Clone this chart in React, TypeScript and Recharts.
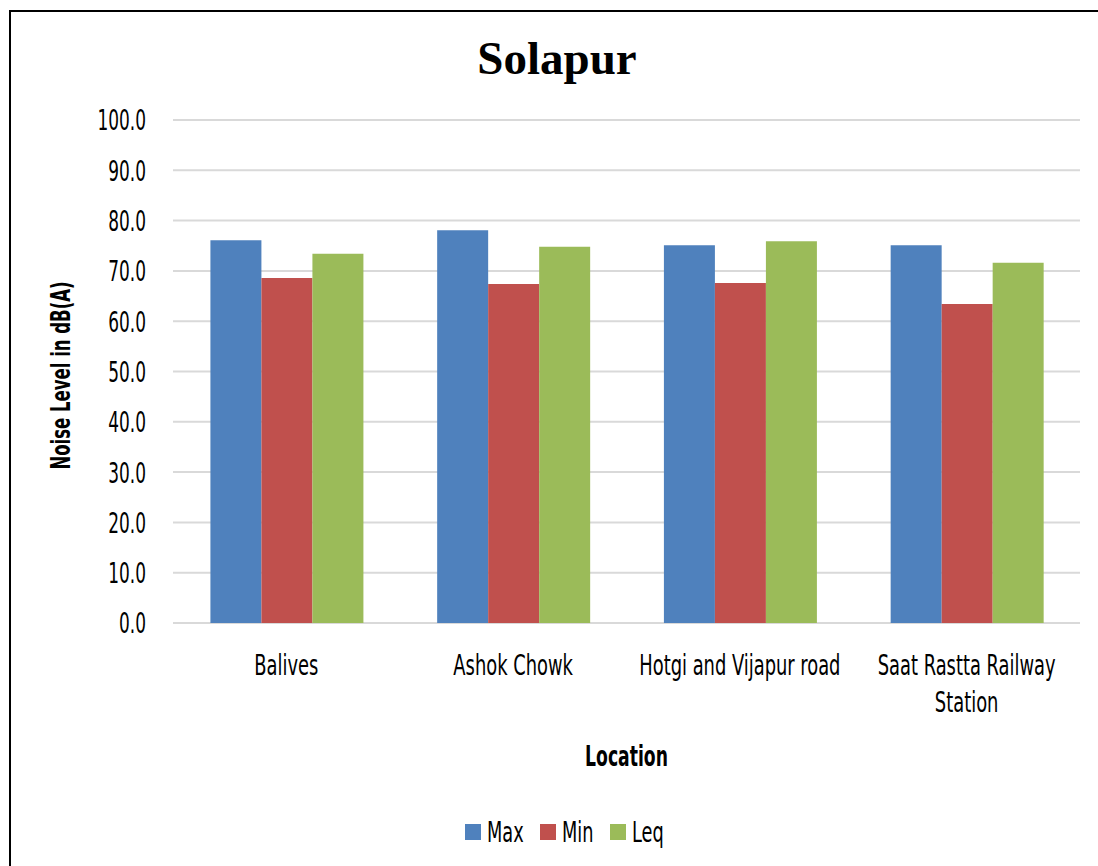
import React from 'react';
import { BarChart, Bar, XAxis, YAxis, CartesianGrid, Legend } from 'recharts';

const categories = ['Balives', 'Ashok Chowk', 'Hotgi and Vijapur road', 'Saat Rastta Railway Station'];
const maxValues = [76.1, 78.1, 75.1, 75.1];
const minValues = [68.6, 67.4, 67.6, 63.4];
const leqValues = [73.4, 74.8, 75.9, 71.6];
const yTicks = [0, 10, 20, 30, 40, 50, 60, 70, 80, 90, 100];

const series = [
  { key: 'Max', color: '#4F81BD', w: 35 },
  { key: 'Min', color: '#C0504D', w: 30 },
  { key: 'Leq', color: '#9BBB59', w: 34 },
];

const data = categories.map((c, i) => ({
  name: c,
  Max: maxValues[i],
  Min: minValues[i],
  Leq: leqValues[i],
}));

const FONT = "'Liberation Sans Narrow', 'DejaVu Sans Condensed', 'Open Sans', sans-serif";

let measureCtx: CanvasRenderingContext2D | null = null;
function measure(text: string, font: string): number {
  if (!measureCtx) {
    const c = document.createElement('canvas');
    measureCtx = c.getContext('2d');
  }
  if (!measureCtx) return text.length * 14;
  measureCtx.font = font;
  return measureCtx.measureText(text).width;
}

function wrap(text: string, maxWidth: number, font: string): string[] {
  const words = text.split(' ');
  const lines: string[] = [];
  let cur = '';
  words.forEach((w) => {
    const cand = cur ? cur + ' ' + w : w;
    if (cur && measure(cand, font) > maxWidth) {
      lines.push(cur);
      cur = w;
    } else {
      cur = cand;
    }
  });
  if (cur) lines.push(cur);
  return lines;
}

const YTick = (props: any) => {
  const { x, y, payload } = props;
  return (
    <g transform={`translate(${x},${y}) scale(0.65,1)`}>
      <text x={0} y={0} dy="0.36em" textAnchor="end" fontFamily={FONT} fontSize={29} fill="#000">
        {Number(payload.value).toFixed(1)}
      </text>
    </g>
  );
};

const XTICK_SX = 0.71;
const XTICK_FS = 28;
const XTick = (props: any) => {
  const { x, y, payload } = props;
  const lines = wrap(String(payload.value), 215 / XTICK_SX, `${XTICK_FS}px ${FONT}`);
  return (
    <g transform={`translate(${x},${y}) scale(${XTICK_SX},1)`}>
      <text x={0} y={0} textAnchor="middle" fontFamily={FONT} fontSize={XTICK_FS} fill="#000">
        {lines.map((l, i) => (
          <tspan key={i} x={0} dy={i === 0 ? 20 : 37}>
            {l}
          </tspan>
        ))}
      </text>
    </g>
  );
};

const YLabel = (props: any) => {
  const { viewBox } = props;
  const cx = 60;
  const cy = viewBox.y + viewBox.height / 2 + 4;
  return (
    <g transform={`translate(${cx},${cy}) rotate(-90) scale(0.68,1)`}>
      <text x={0} y={0} dy="0.36em" textAnchor="middle" fontFamily={FONT} fontWeight="bold" fontSize={27} fill="#000">
        Noise Level in dB(A)
      </text>
    </g>
  );
};

const XLabel = (props: any) => {
  const { viewBox } = props;
  const cx = viewBox.x + viewBox.width / 2;
  const cy = viewBox.y + 143;
  return (
    <g transform={`translate(${cx},${cy}) scale(0.66,1)`}>
      <text x={0} y={0} textAnchor="middle" fontFamily={FONT} fontWeight="bold" fontSize={29} fill="#000">
        Location
      </text>
    </g>
  );
};

const LegendContent = () => (
  <div
    style={{
      height: 40,
      display: 'flex',
      justifyContent: 'center',
      alignItems: 'center',
      paddingLeft: 51,
      boxSizing: 'border-box',
    }}
  >
    {series.map((s, i) => (
      <div key={s.key} style={{ display: 'flex', alignItems: 'center', marginRight: i < series.length - 1 ? 18 : 0 }}>
        <div style={{ width: 16, height: 16, background: s.color, marginRight: 6 }} />
        <div style={{ width: s.w, height: 40, position: 'relative' }}>
          <span
            style={{
              position: 'absolute',
              left: 0,
              top: 2,
              fontFamily: FONT,
              fontSize: 29,
              lineHeight: '36px',
              color: '#000',
              whiteSpace: 'nowrap',
              transform: 'scaleX(0.68)',
              transformOrigin: 'left center',
            }}
          >
            {s.key}
          </span>
        </div>
      </div>
    ))}
  </div>
);

export default function App() {
  return (
    <div style={{ position: 'absolute', left: 0, top: 0, width: 1098, height: 866, background: '#fff', overflow: 'hidden' }}>
      <div
        style={{
          position: 'absolute',
          left: 9,
          top: 10,
          width: 1089,
          height: 856,
          borderLeft: '2px solid #000',
          borderTop: '2px solid #000',
          boxSizing: 'border-box',
        }}
      />
      <div style={{ position: 'absolute', left: 0, top: 0 }}>
        <BarChart
          width={1098}
          height={866}
          data={data}
          margin={{ top: 120, right: 18, left: 0, bottom: 14 }}
          barCategoryGap="16.5%"
          barGap={0}
        >
          <text
            x={557}
            y={74}
            textAnchor="middle"
            fontFamily="'Liberation Serif', 'DejaVu Serif', serif"
            fontWeight="bold"
            fontSize={47}
            fill="#000"
          >
            Solapur
          </text>
          <CartesianGrid vertical={false} stroke="#d9d9d9" strokeWidth={2} />
          <XAxis
            dataKey="name"
            height={189}
            axisLine={false}
            tickLine={false}
            tickMargin={26}
            interval={0}
            tick={<XTick />}
            label={<XLabel />}
          />
          <YAxis
            width={173}
            domain={[0, 100]}
            ticks={yTicks}
            axisLine={false}
            tickLine={false}
            tickMargin={21}
            tick={<YTick />}
            label={<YLabel />}
            interval={0}
          />
          <Legend verticalAlign="bottom" height={40} content={<LegendContent />} />
          {series.map((s) => (
            <Bar key={s.key} dataKey={s.key} fill={s.color} isAnimationActive={false} />
          ))}
        </BarChart>
      </div>
    </div>
  );
}
